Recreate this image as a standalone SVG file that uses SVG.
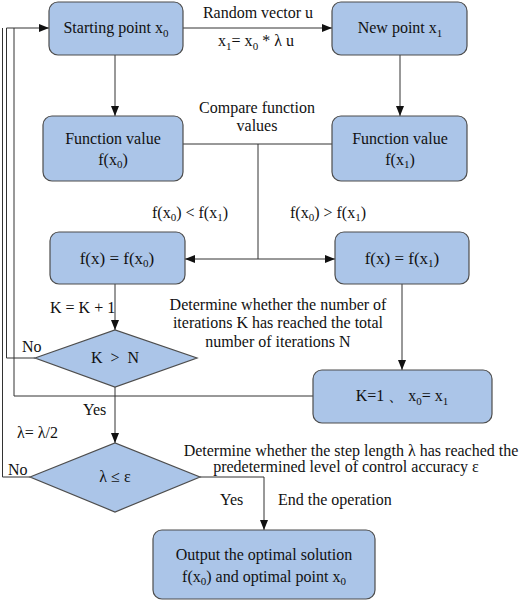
<svg xmlns="http://www.w3.org/2000/svg" width="520" height="601" viewBox="0 0 520 601" font-family="'Liberation Serif', 'Times New Roman', 'DejaVu Serif', serif">
<style>
.box{fill:#abc5e8;stroke:#4d4d4d;stroke-width:1.2}
.ln{fill:none;stroke:#333;stroke-width:1}
text{font-family:'Liberation Serif','Times New Roman','DejaVu Serif',serif;font-size:16px;fill:#111}
.c{text-anchor:middle}
.s{font-size:11px}
.m{font-size:17px}
</style>
<defs>
<marker id="ah" markerWidth="10" markerHeight="8" refX="10" refY="4" orient="auto" markerUnits="userSpaceOnUse">
<path d="M0,0 L10,4 L0,8 Z" fill="#111"/>
</marker>
</defs>
<rect width="520" height="601" fill="#fff"/>
<g id="connectors">
<line class="ln" x1="183" y1="28" x2="332" y2="28" marker-end="url(#ah)"/>
<line class="ln" x1="115" y1="55" x2="115" y2="116" marker-end="url(#ah)"/>
<line class="ln" x1="400" y1="55" x2="400" y2="116" marker-end="url(#ah)"/>
<line class="ln" x1="183" y1="144" x2="332" y2="144"/>
<line class="ln" x1="258" y1="144" x2="258" y2="259"/>
<line class="ln" x1="258" y1="259" x2="185" y2="259" marker-end="url(#ah)"/>
<line class="ln" x1="258" y1="259" x2="335" y2="259" marker-end="url(#ah)"/>
<line class="ln" x1="115" y1="284" x2="115" y2="330" marker-end="url(#ah)"/>
<line class="ln" x1="402" y1="284" x2="402" y2="370" marker-end="url(#ah)"/>
<polyline class="ln" points="35,358 6.5,358 6.5,28 49,28" marker-end="url(#ah)"/>
<polyline class="ln" points="313,396 14,396 14,28"/>
<polyline class="ln" points="30,477 2.5,477 2.5,28"/>
<line class="ln" x1="115" y1="387" x2="115" y2="443" marker-end="url(#ah)"/>
<polyline class="ln" points="200,477 264,477 264,530" marker-end="url(#ah)"/>
</g>
<g id="start">
<rect class="box" x="49" y="2" width="134" height="53" rx="9"/>
<text class="c" x="116" y="33">Starting point x<tspan class="s" dy="4">0</tspan></text>
</g>
<g id="newpoint">
<rect class="box" x="332" y="2" width="135" height="53" rx="9"/>
<text class="c" x="400" y="33">New point x<tspan class="s" dy="4">1</tspan></text>
</g>
<g id="fv0">
<rect class="box" x="43" y="116" width="140" height="65" rx="9"/>
<text class="c" x="113" y="144">Function value</text>
<text class="c" x="113" y="165">f(x<tspan class="s" dy="3">0</tspan><tspan dy="-3">)</tspan></text>
</g>
<g id="fv1">
<rect class="box" x="332" y="116" width="135" height="65" rx="9"/>
<text class="c" x="400" y="144">Function value</text>
<text class="c" x="400" y="165">f(x<tspan class="s" dy="3">1</tspan><tspan dy="-3">)</tspan></text>
</g>
<g id="fx0">
<rect class="box" x="50" y="232" width="135" height="52" rx="9"/>
<text class="c m" x="117" y="264">f(x) = f(x<tspan class="s" dy="3">0</tspan><tspan dy="-3">)</tspan></text>
</g>
<g id="fx1">
<rect class="box" x="335" y="232" width="134" height="52" rx="9"/>
<text class="c m" x="402" y="264">f(x) = f(x<tspan class="s" dy="3">1</tspan><tspan dy="-3">)</tspan></text>
</g>
<g id="kn">
<polygon class="box" points="35,358 115,330 197,358 115,387"/>
<text class="c" x="115" y="363" xml:space="preserve">K  &gt;  N</text>
</g>
<g id="k1">
<rect class="box" x="313" y="370" width="179" height="53" rx="9"/>
<text class="c" x="402" y="401" xml:space="preserve">K=1 、 x<tspan class="s" dy="4">0</tspan><tspan dy="-4">= x</tspan><tspan class="s" dy="4">1</tspan></text>
</g>
<g id="le">
<polygon class="box" points="30,477 115,443 200,477 115,512"/>
<text class="c" x="115" y="482">λ ≤ ε</text>
</g>
<g id="output">
<rect class="box" x="153" y="530" width="222" height="69" rx="9"/>
<text class="c" x="264" y="560">Output the optimal solution</text>
<text class="c" x="264" y="582">f(x<tspan class="s" dy="3">0</tspan><tspan dy="-3">) and optimal point x</tspan><tspan class="s" dy="3">0</tspan></text>
</g>
<g id="labels">
<text class="c" x="258" y="18">Random vector u</text>
<text class="c" x="256" y="46">x<tspan class="s" dy="4">1</tspan><tspan dy="-4">= x</tspan><tspan class="s" dy="4">0</tspan><tspan dy="-4"> * λ u</tspan></text>
<text class="c" x="257" y="113">Compare function</text>
<text class="c" x="257" y="131">values</text>
<text class="c" x="190" y="218">f(x<tspan class="s" dy="3">0</tspan><tspan dy="-3">) &lt; f(x</tspan><tspan class="s" dy="3">1</tspan><tspan dy="-3">)</tspan></text>
<text class="c" x="328" y="218">f(x<tspan class="s" dy="3">0</tspan><tspan dy="-3">) &gt; f(x</tspan><tspan class="s" dy="3">1</tspan><tspan dy="-3">)</tspan></text>
<text x="50" y="313">K = K + 1</text>
<text x="22" y="352">No</text>
<text class="c" x="278" y="310">Determine whether the number of</text>
<text class="c" x="278" y="328">iterations K has reached the total</text>
<text class="c" x="278" y="347">number of iterations N</text>
<text x="83" y="415">Yes</text>
<text x="17" y="438">λ= λ/2</text>
<text x="8" y="475">No</text>
<text class="c" x="351" y="456">Determine whether the step length λ has reached the</text>
<text class="c" x="346" y="472">predetermined level of control accuracy ε</text>
<text x="220" y="505">Yes</text>
<text x="278" y="505">End the operation</text>
</g>
</svg>
